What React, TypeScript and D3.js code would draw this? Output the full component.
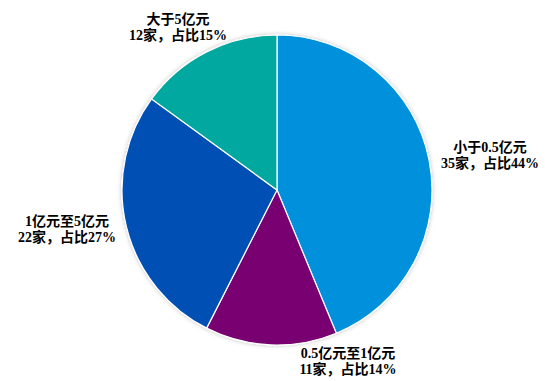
import React from "react";
import * as d3 from "d3";

const categories = ["小于0.5亿元", "0.5亿元至1亿元", "1亿元至5亿元", "大于5亿元"];
const counts = [35, 11, 22, 12];
const percents = ["44%", "14%", "27%", "15%"];
const colors = ["#0090dc", "#780070", "#0050b4", "#00a8a0"];
// label anchor positions (layout)
const labelPos: [number, number][] = [
  [490, 147],
  [348, 353],
  [67, 221],
  [178, 19],
];

export default function App() {
  const W = 554, H = 381;
  const cx = 277, cy = 190, r = 155;
  const pie = d3.pie<number>().sort(null).value((d) => d);
  const arcs = pie(counts);
  const arc = d3.arc<d3.PieArcDatum<number>>().innerRadius(0).outerRadius(r);
  return (
    <svg width={W} height={H} style={{ position: "absolute", left: 0, top: 0 }}>
      <defs>
        <filter id="sh" x="-20%" y="-20%" width="140%" height="140%">
          <feDropShadow dx="0" dy="0" stdDeviation="2" floodColor="#000" floodOpacity="0.25" />
        </filter>
      </defs>
      <g transform={`translate(${cx},${cy})`} filter="url(#sh)">
        {arcs.map((a, i) => (
          <path key={i} d={arc(a) || ""} fill={colors[i]} stroke="#fff" strokeWidth={1.2} />
        ))}
      </g>
      {categories.map((c, i) => (
        <text
          key={i}
          x={labelPos[i][0]}
          y={labelPos[i][1]}
          textAnchor="middle"
          fontFamily="'Liberation Serif', 'Noto Sans CJK SC', serif"
          fontWeight="bold"
          fontSize={14}
          fill="#000"
        >
          <tspan x={labelPos[i][0]} dy="0.35em">{c}</tspan>
          <tspan x={labelPos[i][0]} dy="16">{`${counts[i]}家，占比${percents[i]}`}</tspan>
        </text>
      ))}
    </svg>
  );
}
